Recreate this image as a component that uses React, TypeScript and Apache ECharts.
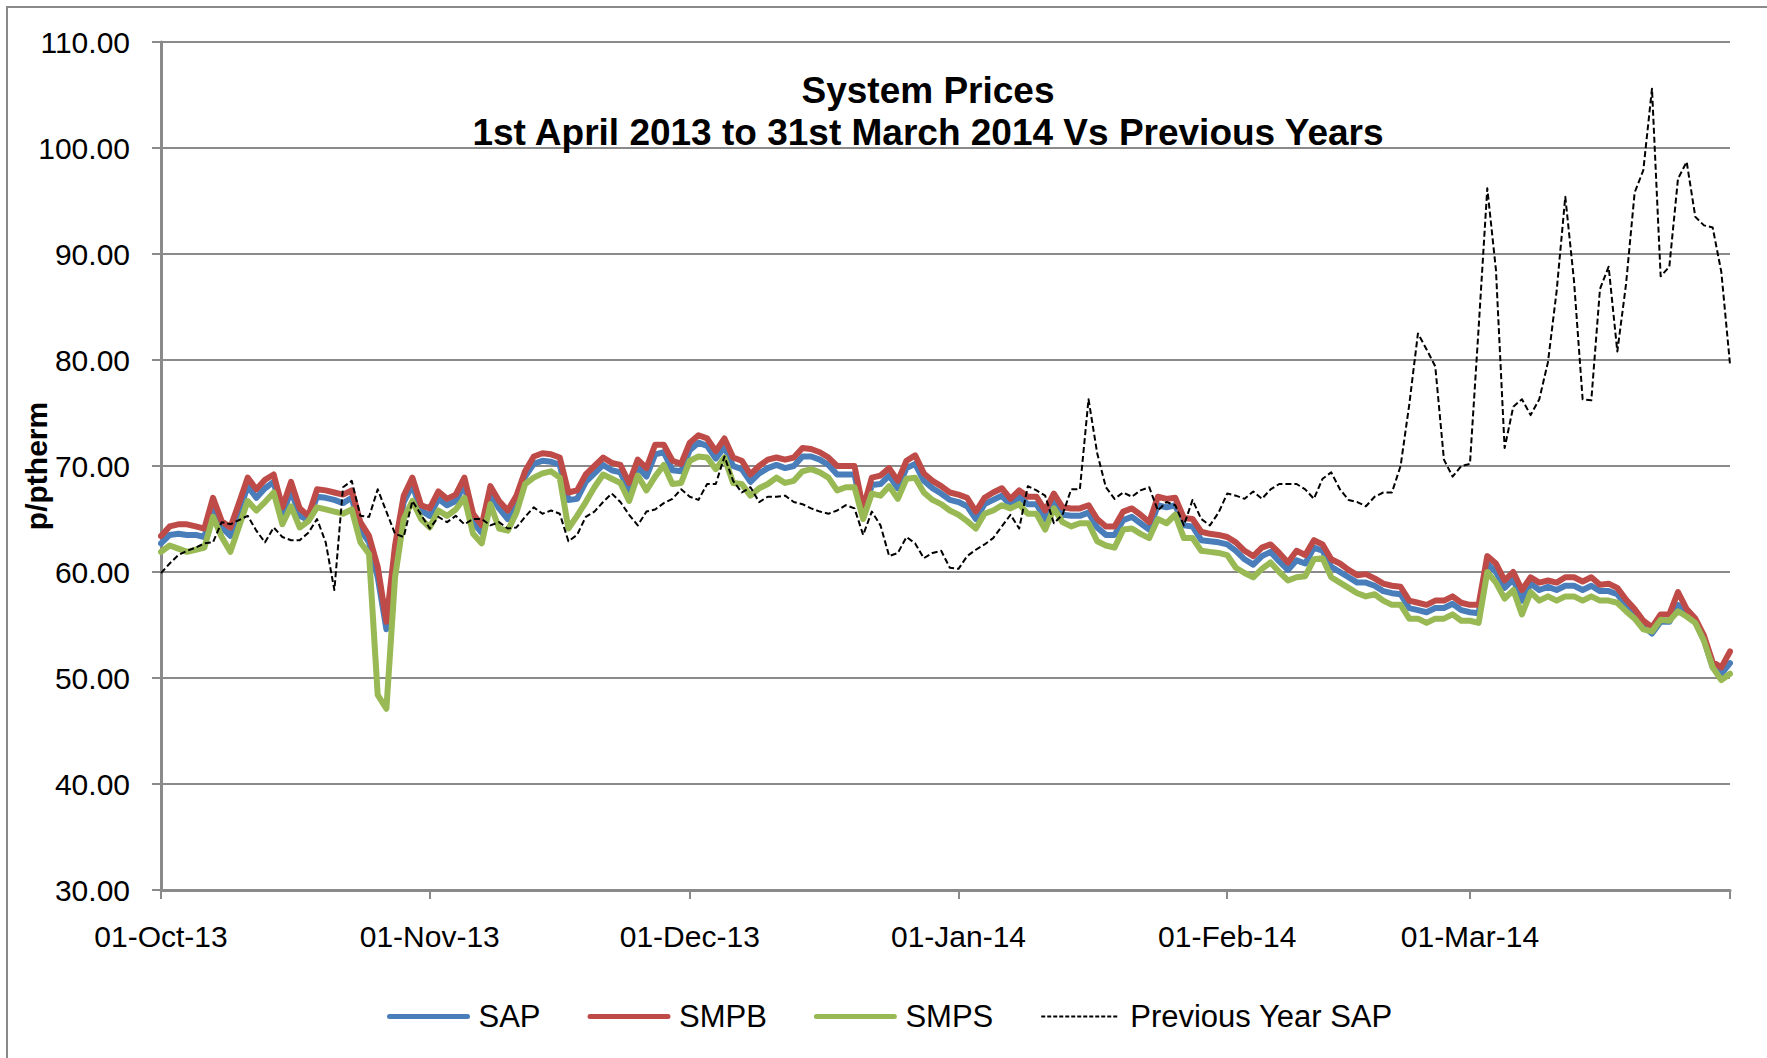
import React, { useEffect, useRef } from "react";
import * as echarts from "echarts";

// Daily values, 01-Oct-2013 .. 31-Mar-2014 (p/therm)
const SAP: number[] = [
  62.7, 63.5, 63.6, 63.5, 63.5, 63.3, 66.3, 64.2, 63.4, 65.6,
  68.1, 67.0, 67.9, 68.5, 65.3, 67.7, 65.3, 64.9, 67.1, 67.0,
  66.8, 66.5, 67.0, 64.0, 62.8, 59.5, 54.6, 62.0, 66.6, 68.2,
  65.8, 65.3, 66.9, 66.3, 66.7, 68.2, 64.7, 63.7, 67.4, 66.0,
  65.0, 66.6, 69.0, 70.2, 70.5, 70.4, 70.1, 66.8, 66.9, 68.5,
  69.3, 70.1, 69.6, 69.4, 67.7, 69.9, 69.0, 71.1, 71.3, 69.6,
  69.5, 71.5, 72.2, 71.9, 70.7, 71.8, 70.0, 69.7, 68.5, 69.3,
  69.8, 70.1, 69.8, 70.0, 70.9, 70.9, 70.6, 70.1, 69.2, 69.2,
  69.2, 65.5, 68.2, 68.3, 69.1, 67.9, 69.8, 70.2, 68.6, 67.9,
  67.4, 66.8, 66.6, 66.2, 65.0, 66.4, 66.8, 67.2, 66.3, 67.1,
  66.4, 66.4, 65.0, 66.8, 65.4, 65.3, 65.3, 65.6, 64.2, 63.5,
  63.5, 64.9, 65.2, 64.6, 64.0, 66.3, 66.1, 66.3, 64.4, 64.3,
  63.0, 62.9, 62.8, 62.6, 62.0, 61.2, 60.7, 61.5, 61.9, 61.0,
  60.2, 61.1, 60.8, 62.3, 62.0, 60.5, 60.0, 59.5, 59.0, 59.0,
  58.7, 58.2, 58.0, 57.9, 56.6, 56.4, 56.2, 56.6, 56.6, 57.0,
  56.4, 56.2, 56.1, 60.8, 60.0, 58.5, 59.3, 57.3, 58.9, 58.3,
  58.6, 58.3, 58.7, 58.7, 58.3, 58.7, 58.2, 58.2, 57.9, 56.9,
  56.0, 54.9, 54.2, 55.3, 55.3, 56.9, 56.1, 55.3, 53.6, 51.0,
  50.4, 51.4,
];

const SMPB: number[] = [
  63.4, 64.3, 64.5, 64.5, 64.3, 64.1, 67.0, 64.8, 64.2, 66.5,
  68.9, 67.8, 68.7, 69.2, 66.1, 68.5, 66.0, 65.3, 67.8, 67.7,
  67.5, 67.3, 67.7, 64.7, 63.4, 60.5, 55.3, 62.5, 67.2, 68.9,
  66.3, 66.0, 67.6, 66.9, 67.3, 68.9, 65.5, 64.4, 68.1, 66.7,
  65.8, 67.2, 69.5, 70.9, 71.2, 71.1, 70.8, 67.5, 67.7, 69.2,
  70.0, 70.8, 70.3, 70.1, 68.4, 70.6, 69.8, 72.0, 72.0, 70.5,
  70.2, 72.2, 72.9, 72.6, 71.4, 72.6, 70.8, 70.5, 69.2, 70.0,
  70.6, 70.8, 70.6, 70.8, 71.7, 71.6, 71.3, 70.8, 70.0, 70.0,
  70.0, 66.0, 68.9, 69.1, 69.8, 68.6, 70.5, 71.0, 69.3, 68.6,
  68.1, 67.5, 67.3, 67.0, 65.7, 67.0, 67.5, 67.9, 66.9, 67.7,
  67.1, 67.1, 65.8, 67.4, 66.1, 66.0, 66.0, 66.3, 65.0, 64.3,
  64.3, 65.7, 66.0, 65.4, 64.7, 67.1, 66.9, 67.0, 65.1, 65.0,
  63.8, 63.6, 63.5, 63.3, 62.8, 62.0, 61.5, 62.3, 62.6, 61.8,
  60.9, 62.0, 61.6, 63.0, 62.6, 61.2, 60.8, 60.2, 59.7, 59.8,
  59.4, 58.9, 58.7, 58.6, 57.3, 57.1, 56.9, 57.3, 57.3, 57.7,
  57.1, 56.9, 56.9, 61.5, 60.8, 59.2, 60.0, 58.3, 59.5, 59.0,
  59.2, 59.0, 59.5, 59.5, 59.1, 59.5, 58.8, 58.9, 58.5, 57.4,
  56.5, 55.4, 54.8, 56.0, 56.0, 58.1, 56.5, 55.6, 54.0, 51.5,
  51.0, 52.5,
];

const SMPS: number[] = [
  61.9, 62.5, 62.2, 61.9, 62.1, 62.3, 65.2, 63.3, 61.9, 64.3,
  66.7, 65.8, 66.6, 67.5, 64.5, 66.2, 64.2, 64.8, 66.1, 65.9,
  65.7, 65.5, 65.9, 62.8, 61.7, 48.4, 47.1, 59.5, 65.0, 66.7,
  65.0, 64.2, 65.8, 65.3, 65.9, 67.0, 63.6, 62.7, 66.4, 64.1,
  63.9, 65.6, 68.3, 68.9, 69.3, 69.5, 68.9, 64.1, 65.3, 66.6,
  68.0, 69.2, 68.8, 68.4, 66.7, 69.1, 67.7, 69.0, 70.1, 68.3,
  68.4, 70.5, 70.9, 70.8, 69.7, 70.8, 68.4, 68.3, 67.2, 67.9,
  68.3, 68.9, 68.4, 68.6, 69.5, 69.7, 69.4, 68.9, 67.7, 68.0,
  68.0, 65.0, 67.4, 67.2, 68.1, 66.9, 68.8, 68.9, 67.5, 66.8,
  66.4, 65.8, 65.4, 64.8, 64.1, 65.5, 65.8, 66.3, 66.0, 66.4,
  65.5, 65.5, 64.0, 66.0, 64.7, 64.3, 64.6, 64.6, 62.9, 62.5,
  62.3, 64.0, 64.1, 63.6, 63.2, 65.0, 64.6, 65.4, 63.2, 63.2,
  62.0, 61.9, 61.8, 61.6, 60.4, 59.9, 59.5, 60.3, 60.9, 60.0,
  59.2, 59.5, 59.6, 61.2, 61.3, 59.5, 59.0, 58.5, 58.0, 57.7,
  57.9, 57.3, 56.9, 56.9, 55.6, 55.6, 55.2, 55.6, 55.6, 56.0,
  55.4, 55.4, 55.2, 60.0, 59.0, 57.5, 58.3, 56.0, 58.1, 57.3,
  57.7, 57.3, 57.7, 57.7, 57.3, 57.7, 57.3, 57.3, 57.1, 56.3,
  55.6, 54.6, 54.4, 55.5, 55.4, 56.3, 55.8, 55.2, 53.5, 51.0,
  49.8, 50.4,
];

const PREV_YEAR_SAP: number[] = [
  59.9, 60.8, 61.6, 62.0, 62.3, 62.7, 62.8, 64.7, 64.5, 64.9,
  65.3, 63.9, 62.8, 64.2, 63.3, 63.0, 63.0, 63.7, 65.0, 62.8,
  58.3, 68.0, 68.6, 65.3, 65.2, 67.8, 65.7, 63.6, 63.3, 66.7,
  65.4, 64.1, 65.2, 64.7, 65.3, 64.5, 65.0, 65.0, 64.4, 64.7,
  64.1, 64.2, 65.2, 66.1, 65.5, 65.8, 65.5, 62.9, 63.5, 65.2,
  65.7, 66.6, 67.4, 66.6, 65.4, 64.4, 65.7, 65.9, 66.5, 66.9,
  67.8, 67.1, 66.8, 68.3, 68.3, 70.9, 68.6, 67.5, 68.0, 66.6,
  67.1, 67.1, 67.2, 66.6, 66.4, 66.0, 65.7, 65.5, 65.8, 66.3,
  66.0, 63.5, 65.7, 64.4, 61.5, 61.8, 63.3, 62.7, 61.3, 61.8,
  62.0, 60.4, 60.3, 61.5, 62.1, 62.6, 63.2, 64.3, 65.4, 64.1,
  68.1, 67.7, 67.2, 64.6, 65.4, 67.8, 67.8, 76.3, 71.2, 68.0,
  66.9, 67.5, 67.1, 67.7, 68.0, 65.8, 66.6, 66.3, 64.4, 66.8,
  65.0, 64.4, 65.6, 67.4, 67.2, 66.9, 67.6, 66.9, 67.8, 68.3,
  68.3, 68.3, 67.8, 66.9, 68.8, 69.4, 67.8, 66.8, 66.6, 66.2,
  67.1, 67.5, 67.5, 70.0, 75.8, 82.5, 81.0, 79.4, 70.6, 69.0,
  70.0, 70.2, 83.0, 96.2, 88.5, 71.7, 75.6, 76.3, 74.8, 76.3,
  79.8, 86.5, 95.4, 87.5, 76.3, 76.2, 86.7, 88.8, 80.8, 87.1,
  95.8, 97.9, 105.6, 87.9, 88.8, 97.1, 98.7, 93.5, 92.7, 92.5,
  88.3, 79.6,
];

const SERIES_NAMES = ["SAP", "SMPB", "SMPS", "Previous Year SAP"];
const TITLE_LINES = ["System Prices", "1st April 2013 to 31st March 2014 Vs Previous Years"];
const Y_AXIS_NAME = "p/ptherm";
const Y_MIN = 30;
const Y_MAX = 110;
const Y_STEP = 10;
const MONTH_ABBR = ["Jan", "Feb", "Mar", "Apr", "May", "Jun", "Jul", "Aug", "Sep", "Oct", "Nov", "Dec"];
const FIRST_DAY = { year: 2013, month: 9, day: 1 };

function buildDateLabels(n: number): string[] {
  const out: string[] = [];
  for (let i = 0; i < n; i++) {
    const d = new Date(Date.UTC(FIRST_DAY.year, FIRST_DAY.month, FIRST_DAY.day + i));
    const dd = String(d.getUTCDate()).padStart(2, "0");
    const yy = String(d.getUTCFullYear()).slice(2);
    out.push(`${dd}-${MONTH_ABBR[d.getUTCMonth()]}-${yy}`);
  }
  return out;
}

const FONT = "'Liberation Sans', Arial, Helvetica, sans-serif";
const GRID_GREY = "#8a8a8a";
const COLORS = ["#4a7ebb", "#be4b48", "#98b954", "#000000"];
const WIDTHS = [6, 6, 6, 2];

export default function App() {
  const ref = useRef<HTMLDivElement>(null);

  useEffect(() => {
    if (!ref.current) return;
    const chart = echarts.init(ref.current, undefined, { renderer: "svg" });
    const dates = buildDateLabels(SAP.length);
    const last = dates.length - 1;

    const lineSeries = (idx: number, data: number[], dashed?: boolean) => ({
      name: SERIES_NAMES[idx],
      type: "line",
      data,
      symbol: "none",
      showSymbol: false,
      smooth: false,
      lineStyle: {
        color: COLORS[idx],
        width: WIDTHS[idx],
        type: dashed ? [6, 3] : "solid",
        cap: dashed ? "butt" : "round",
        join: "round",
      },
      itemStyle: { color: COLORS[idx] },
      emphasis: { disabled: true },
    });

    chart.setOption({
      animation: false,
      backgroundColor: "#ffffff",
      textStyle: { fontFamily: FONT },
      title: {
        text: TITLE_LINES.join("\n"),
        left: 928,
        textAlign: "center",
        top: 69,
        padding: 0,
        textStyle: {
          fontFamily: FONT,
          fontSize: 37,
          fontWeight: "bold",
          color: "#000",
          lineHeight: 42,
        },
      },
      legend: {
        left: 382,
        top: 996,
        itemWidth: 78,
        itemHeight: 30,
        itemGap: 47,
        itemStyle: { opacity: 0 },
        data: SERIES_NAMES.map((name, i) => ({
          name,
          itemStyle: { opacity: 0 },
          lineStyle: {
            width: i === 3 ? 2 : 5,
            color: COLORS[i],
            type: i === 3 ? [4, 2] : "solid",
            cap: i === 3 ? "butt" : "round",
          },
        })),
        textStyle: {
          fontFamily: FONT,
          fontSize: 31,
          color: "#000",
          padding: [0, 0, 0, 6],
        },
      },
      grid: {
        left: 161,
        right: 37,
        top: 42,
        bottom: 168,
        containLabel: false,
      },
      xAxis: {
        type: "category",
        data: dates,
        boundaryGap: false,
        axisLine: { lineStyle: { color: GRID_GREY, width: 3 } },
        axisTick: {
          length: 9,
          lineStyle: { color: GRID_GREY, width: 2 },
          interval: (index: number, value: string) => value.startsWith("01-") || index === last,
        },
        axisLabel: {
          interval: (_index: number, value: string) => value.startsWith("01-"),
          margin: 31,
          fontSize: 30,
          color: "#000",
          fontFamily: FONT,
        },
        splitLine: { show: false },
      },
      yAxis: {
        type: "value",
        min: Y_MIN,
        max: Y_MAX,
        interval: Y_STEP,
        name: Y_AXIS_NAME,
        nameLocation: "middle",
        nameGap: 110,
        nameRotate: 90,
        nameMoveOverlap: false,
        nameTextStyle: {
          fontFamily: FONT,
          fontSize: 30,
          fontWeight: "bold",
          color: "#000",
        },
        axisLine: { show: true, lineStyle: { color: GRID_GREY, width: 3 } },
        axisTick: { show: true, length: 9, lineStyle: { color: GRID_GREY, width: 2 } },
        axisLabel: {
          margin: 31,
          fontSize: 30,
          color: "#000",
          fontFamily: FONT,
          formatter: (v: number) => v.toFixed(2),
        },
        splitLine: { show: true, lineStyle: { color: GRID_GREY, width: 2 } },
      },
      graphic: [
        {
          type: "rect",
          shape: { x: 7, y: 7, width: 1800, height: 1100 },
          style: { fill: "none", stroke: GRID_GREY, lineWidth: 2 },
          silent: true,
        },
      ],
      series: [
        lineSeries(0, SAP),
        lineSeries(1, SMPB),
        lineSeries(2, SMPS),
        lineSeries(3, PREV_YEAR_SAP, true),
      ],
    });

    return () => {
      chart.dispose();
    };
  }, []);

  return (
    <div
      ref={ref}
      style={{
        position: "fixed",
        left: 0,
        top: 0,
        width: 1767,
        height: 1058,
        background: "#fff",
      }}
    />
  );
}
